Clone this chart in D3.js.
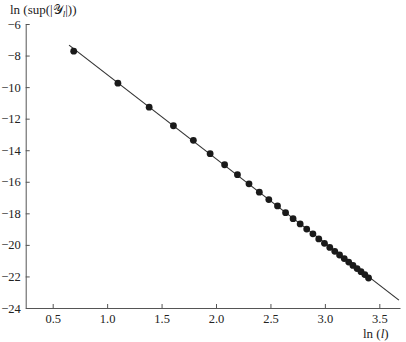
<!DOCTYPE html>
<html>
<head>
<meta charset="utf-8">
<script src="https://cdn.jsdelivr.net/npm/d3@7"></script>
<style>
  body { margin: 0; background: #fff; }
  text { font-family: "Liberation Serif", "DejaVu Serif", serif; fill: #222; }
  .axis path, .axis line { stroke: #555; stroke-width: 1; }
  .axis text { font-size: 12.5px; font-family: "Liberation Serif", serif; fill: #222; }
</style>
</head>
<body>
<div id="mainDiv"></div>
<script>
// ln(l) values of the points
const lnL = [0.693, 1.099, 1.386, 1.609, 1.792, 1.946, 2.079, 2.197, 2.303, 2.398,
             2.485, 2.565, 2.639, 2.708, 2.773, 2.833, 2.890, 2.944, 2.996, 3.045,
             3.091, 3.135, 3.178, 3.219, 3.258, 3.296, 3.332, 3.367, 3.401];
// ln(sup|Y_l|) values
const lnSup = [-7.72, -9.75, -11.27, -12.45, -13.37, -14.22, -14.92, -15.55, -16.13, -16.66,
               -17.13, -17.53, -17.96, -18.34, -18.67, -19.00, -19.30, -19.62, -19.90, -20.16,
               -20.41, -20.64, -20.87, -21.09, -21.30, -21.50, -21.70, -21.88, -22.10];
// fitted straight line (two end points)
const fitX = [0.65, 3.68];
const fitY = [-7.34, -23.5];

const xTicks = [0.5, 1.0, 1.5, 2.0, 2.5, 3.0, 3.5];
const yTicks = [-6, -8, -10, -12, -14, -16, -18, -20, -22, -24];

let width = 406,
    height = 342;

let svg = d3.select("#mainDiv").append("svg")
            .attr("width", width)
            .attr("height", height);

let x = d3.scaleLinear().domain([0.252, 3.69]).range([25.7, 400]),
    y = d3.scaleLinear().domain([-24, -6]).range([308, 24]);

// x axis, ticks pointing inward
let xAxis = svg.append("g")
    .attr("class", "axis")
    .attr("transform", "translate(0," + y(-24) + ")")
    .call(d3.axisBottom(x).tickValues(xTicks).tickFormat(d3.format(".1f"))
            .tickSizeInner(-4).tickSizeOuter(0).tickPadding(6));

// y axis
let yAxis = svg.append("g")
    .attr("class", "axis")
    .attr("transform", "translate(" + x(0.252) + ",0)")
    .call(d3.axisLeft(y).tickValues(yTicks).tickFormat(d3.format("d"))
            .tickSizeInner(-4).tickSizeOuter(0).tickPadding(5));

svg.selectAll(".axis text").style("font-family", "Liberation Serif, serif");

// fitted line
let fit = fitX.map(function(d, i) { return [d, fitY[i]]; });
svg.append("path")
    .datum(fit)
    .attr("fill", "none")
    .attr("stroke", "#333")
    .attr("stroke-width", 1.2)
    .attr("d", d3.line().x(function(d) { return x(d[0]); }).y(function(d) { return y(d[1]); }));

// points
svg.selectAll(".pt")
    .data(lnL)
  .enter().append("circle")
    .attr("class", "pt")
    .attr("cx", function(d) { return x(d); })
    .attr("cy", function(d, i) { return y(lnSup[i]); })
    .attr("r", 3.4)
    .attr("fill", "#1a1a1a");

// y label (top left)
let yl = svg.append("text")
    .attr("x", 10)
    .attr("y", 14)
    .style("font-size", "13px");
yl.append("tspan").text("ln (sup(|");
yl.append("tspan").text("\u{1D4B4}");
yl.append("tspan").text("l").style("font-style", "italic").style("font-size", "9px").attr("dy", 3);
yl.append("tspan").text("|))").attr("dy", -3);

// x label (bottom right)
let xl = svg.append("text")
    .attr("x", 363)
    .attr("y", 338)
    .style("font-size", "13px");
xl.append("tspan").text("ln (");
xl.append("tspan").text("l").style("font-style", "italic");
xl.append("tspan").text(")");
</script>
</body>
</html>
